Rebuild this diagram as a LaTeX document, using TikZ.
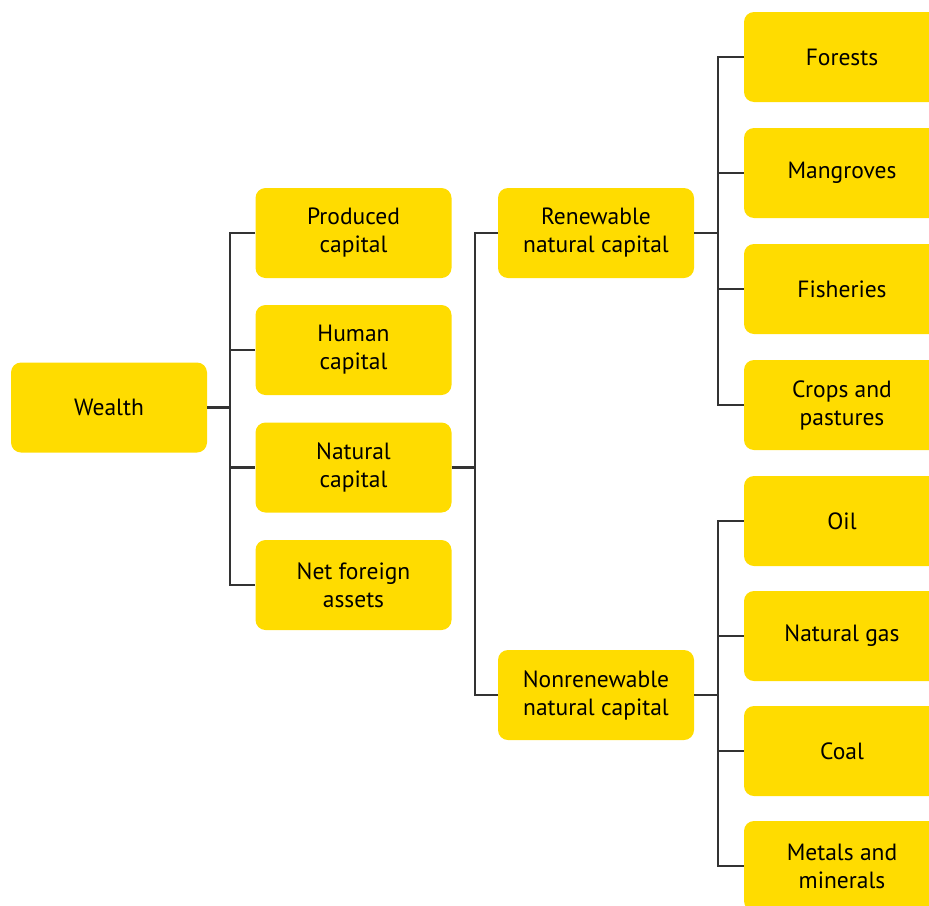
\documentclass[tikz,border=0pt]{standalone}
\usepackage{fontspec}
\setmainfont{PT Sans}
\definecolor{boxyellow}{HTML}{FFDC00}
\definecolor{linegrey}{HTML}{333333}
\tikzset{
  box/.style={fill=boxyellow, rounded corners=10pt, minimum width=196pt, minimum height=90pt,
    align=center, font=\fontsize{23.5}{28}\selectfont, text=black, inner sep=0pt},
  conn/.style={draw=linegrey, line width=2.3pt}
}
\begin{document}
\begin{tikzpicture}[x=1pt,y=-1pt]
\useasboundingbox (0,0) rectangle (929,905);
\clip (0,0) rectangle (929,905);
\node[box] (wealth) at (109,407.5) {Wealth};
\node[box] (produced) at (353.5,233) {Produced\\capital};
\node[box] (human) at (353.5,350) {Human\\capital};
\node[box] (natural) at (353.5,467.5) {Natural\\capital};
\node[box] (net) at (353.5,585) {Net foreign\\assets};
\node[box] (renew) at (596,233) {Renewable\\natural capital};
\node[box] (nonrenew) at (596,695) {Nonrenewable\\natural capital};
\node[box] (forests) at (842,57) {Forests};
\node[box] (mangroves) at (842,173) {Mangroves};
\node[box] (fisheries) at (842,289) {Fisheries};
\node[box] (crops) at (842,405) {Crops and\\pastures};
\node[box] (oil) at (842,521) {Oil};
\node[box] (gas) at (842,636) {Natural gas};
\node[box] (coal) at (842,751) {Coal};
\node[box] (metals) at (842,866) {Metals and\\minerals};
% level 1
\coordinate (b1) at (230,407.5);
\draw[conn] (wealth.east) -- (b1);
\draw[conn] (produced.west) -- ++(-25,0) |- (net.west);
\draw[conn] (b1 |- human.west) -- (human.west);
\draw[conn] (b1 |- natural.west) -- (natural.west);
% level 2
\coordinate (b2) at (475,467.5);
\draw[conn] (natural.east) -- (b2);
\draw[conn] (renew.west) -- ++(-23,0) |- (nonrenew.west);
% level 3 renewable
\coordinate (b3) at (718,233);
\draw[conn] (renew.east) -- (b3);
\draw[conn] (forests.west) -- ++(-26,0) |- (crops.west);
\draw[conn] (b3 |- mangroves.west) -- (mangroves.west);
\draw[conn] (b3 |- fisheries.west) -- (fisheries.west);
% level 3 nonrenewable
\coordinate (b4) at (718,695);
\draw[conn] (nonrenew.east) -- (b4);
\draw[conn] (oil.west) -- ++(-26,0) |- (metals.west);
\draw[conn] (b4 |- gas.west) -- (gas.west);
\draw[conn] (b4 |- coal.west) -- (coal.west);
\end{tikzpicture}
\end{document}
